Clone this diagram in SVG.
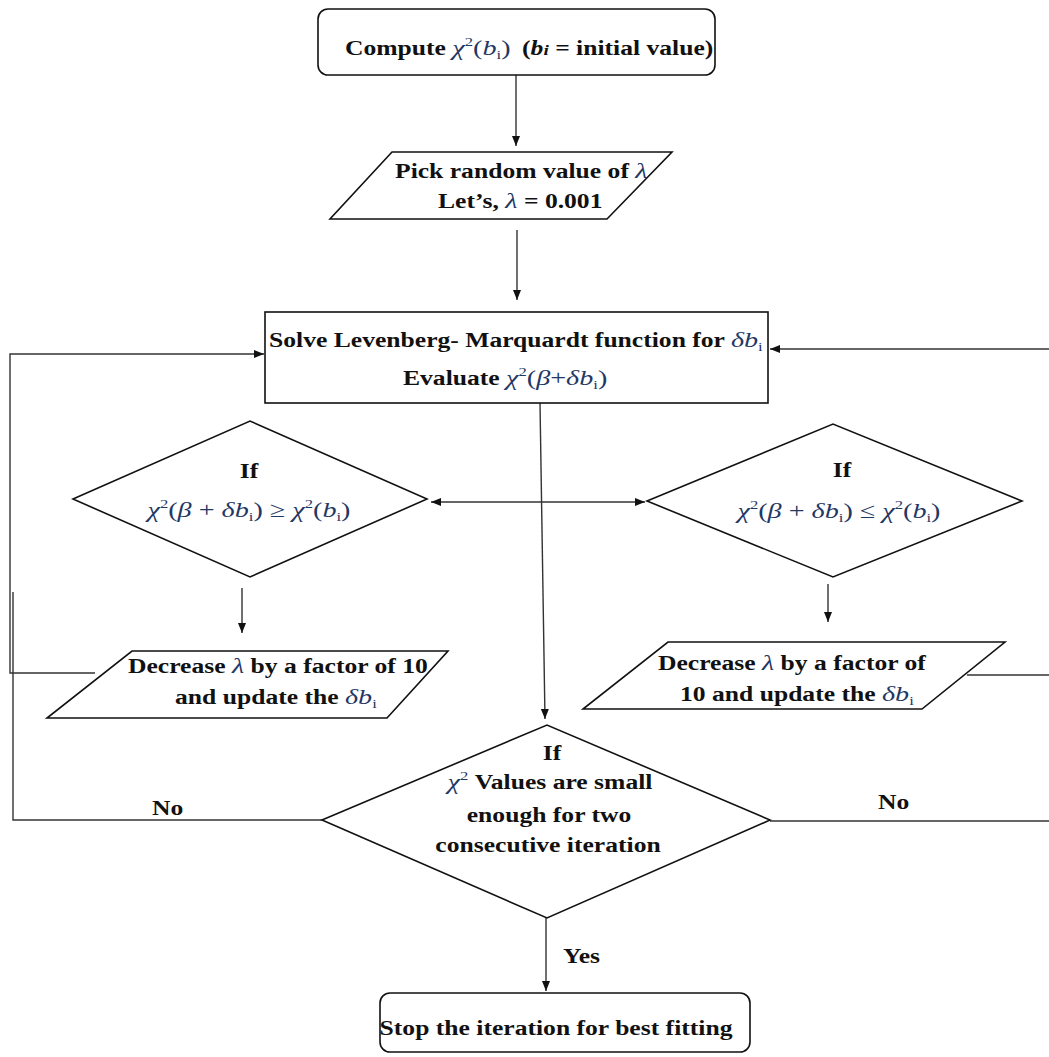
<svg xmlns="http://www.w3.org/2000/svg" width="1049" height="1057" viewBox="0 0 1049 1057">
<style>
.shape{fill:#fff;stroke:#111;stroke-width:1.6}
.con{fill:none;stroke:#333;stroke-width:1.4}
.t{font-family:"Liberation Serif","Times New Roman",serif;font-weight:bold;font-size:20px;fill:#111}
.m{font-family:"Liberation Serif","Times New Roman",serif;font-weight:normal;font-size:22px;fill:#1f3864}
.i{font-style:italic}
.sup{font-size:13px}
</style>
<defs>
<marker id="ah" viewBox="0 0 10 10" refX="10" refY="5" markerWidth="10" markerHeight="10" markerUnits="userSpaceOnUse" orient="auto-start-reverse">
<path d="M0,1 L10,5 L0,9 z" fill="#111"/>
</marker>
</defs>
<rect width="1049" height="1057" fill="#fff"/>

<g id="connectors">
<line class="con" x1="516" y1="75" x2="516" y2="146" marker-end="url(#ah)"/>
<line class="con" x1="517" y1="230" x2="517" y2="300" marker-end="url(#ah)"/>
<path class="con" d="M95,673 H10 V354 H264" marker-end="url(#ah)"/>
<path class="con" d="M322,820 H13 V592"/>
<path class="con" d="M1049,349 H770" marker-end="url(#ah)"/>
<path class="con" d="M967,675 H1049"/>
<path class="con" d="M770,821 H1049"/>
<line class="con" x1="431" y1="502" x2="645" y2="502" marker-start="url(#ah)" marker-end="url(#ah)"/>
<line class="con" x1="540" y1="403" x2="545" y2="719" marker-end="url(#ah)"/>
<line class="con" x1="242" y1="588" x2="242" y2="633" marker-end="url(#ah)"/>
<line class="con" x1="828" y1="584" x2="828" y2="622" marker-end="url(#ah)"/>
<line class="con" x1="546" y1="918" x2="546" y2="991" marker-end="url(#ah)"/>
<text class="t" transform="translate(152,815) scale(1.28,1)">No</text>
<text class="t" transform="translate(878,809) scale(1.28,1)">No</text>
<text class="t" transform="translate(563,963) scale(1.28,1)">Yes</text>
</g>

<g id="node-start">
<rect class="shape" x="318" y="9" width="397" height="66" rx="10"/>
<text class="t" transform="translate(345,55) scale(1.28,1)">Compute <tspan class="m"><tspan class="i">χ</tspan><tspan class="sup" dy="-9">2</tspan><tspan dy="9">(</tspan><tspan class="i">b</tspan><tspan class="sup" dy="4">i</tspan><tspan dy="-4">)</tspan></tspan><tspan dx="9">(</tspan><tspan class="i">b</tspan><tspan class="i" font-size="15">i</tspan> = initial value)</text>
</g>

<g id="node-lambda">
<polygon class="shape" points="392,152 672,152 607,219 330,219"/>
<text class="t" transform="translate(395,178) scale(1.28,1)">Pick random value of <tspan class="m i">λ</tspan></text>
<text class="t" transform="translate(438,208) scale(1.28,1)">Let’s, <tspan class="m i">λ</tspan> = 0.001</text>
</g>

<g id="node-solve">
<rect class="shape" x="265" y="312" width="503" height="91"/>
<text class="t" transform="translate(269,347) scale(1.28,1)">Solve Levenberg- Marquardt function for <tspan class="m"><tspan class="i">δb</tspan><tspan class="sup" dy="4">i</tspan></tspan></text>
<text class="t" transform="translate(403,385) scale(1.28,1)">Evaluate <tspan class="m"><tspan class="i">χ</tspan><tspan class="sup" dy="-9">2</tspan><tspan dy="9">(</tspan><tspan class="i">β</tspan>+<tspan class="i">δb</tspan><tspan class="sup" dy="4">i</tspan><tspan dy="-4">)</tspan></tspan></text>
</g>

<g id="node-if-left">
<polygon class="shape" points="73,499 250,421 427,499 250,577"/>
<text class="t" transform="translate(249,478) scale(1.28,1)" text-anchor="middle">If</text>
<text class="m" transform="translate(249,517) scale(1.28,1)" text-anchor="middle"><tspan class="i">χ</tspan><tspan class="sup" dy="-9">2</tspan><tspan dy="9">(</tspan><tspan class="i">β</tspan> + <tspan class="i">δb</tspan><tspan class="sup" dy="4">i</tspan><tspan dy="-4">) ≥ </tspan><tspan class="i">χ</tspan><tspan class="sup" dy="-9">2</tspan><tspan dy="9">(</tspan><tspan class="i">b</tspan><tspan class="sup" dy="4">i</tspan><tspan dy="-4">)</tspan></text>
</g>

<g id="node-if-right">
<polygon class="shape" points="647,501 833,424 1022,501 833,577"/>
<text class="t" transform="translate(842,477) scale(1.28,1)" text-anchor="middle">If</text>
<text class="m" transform="translate(839,518) scale(1.28,1)" text-anchor="middle"><tspan class="i">χ</tspan><tspan class="sup" dy="-9">2</tspan><tspan dy="9">(</tspan><tspan class="i">β</tspan> + <tspan class="i">δb</tspan><tspan class="sup" dy="4">i</tspan><tspan dy="-4">) ≤ </tspan><tspan class="i">χ</tspan><tspan class="sup" dy="-9">2</tspan><tspan dy="9">(</tspan><tspan class="i">b</tspan><tspan class="sup" dy="4">i</tspan><tspan dy="-4">)</tspan></text>
</g>

<g id="node-decrease-left">
<polygon class="shape" points="132,651 448,651 387,718 47,718"/>
<text class="t" transform="translate(128,673) scale(1.28,1)">Decrease <tspan class="m i">λ</tspan> by a factor of 10</text>
<text class="t" transform="translate(175,704) scale(1.28,1)">and update the <tspan class="m"><tspan class="i">δb</tspan><tspan class="sup" dy="4">i</tspan></tspan></text>
</g>

<g id="node-decrease-right">
<polygon class="shape" points="668,642 1005,642 922,709 583,709"/>
<text class="t" transform="translate(658,670) scale(1.28,1)">Decrease <tspan class="m i">λ</tspan> by a factor of</text>
<text class="t" transform="translate(680,701) scale(1.28,1)">10 and update the <tspan class="m"><tspan class="i">δb</tspan><tspan class="sup" dy="4">i</tspan></tspan></text>
</g>

<g id="node-if-converge">
<polygon class="shape" points="322,820 547,725 770,820 547,918"/>
<text class="t" transform="translate(552,760) scale(1.28,1)" text-anchor="middle">If</text>
<text class="t" transform="translate(550,789) scale(1.28,1)" text-anchor="middle"><tspan class="m i">χ</tspan><tspan class="m sup" dy="-9">2</tspan><tspan dy="9"> Values are small</tspan></text>
<text class="t" transform="translate(549,822) scale(1.28,1)" text-anchor="middle">enough for two</text>
<text class="t" transform="translate(548,852) scale(1.28,1)" text-anchor="middle">consecutive iteration</text>
</g>

<g id="node-stop">
<rect class="shape" x="380" y="993" width="370" height="59" rx="10"/>
<text class="t" transform="translate(556,1035) scale(1.28,1)" text-anchor="middle">Stop the iteration for best fitting</text>
</g>
</svg>
